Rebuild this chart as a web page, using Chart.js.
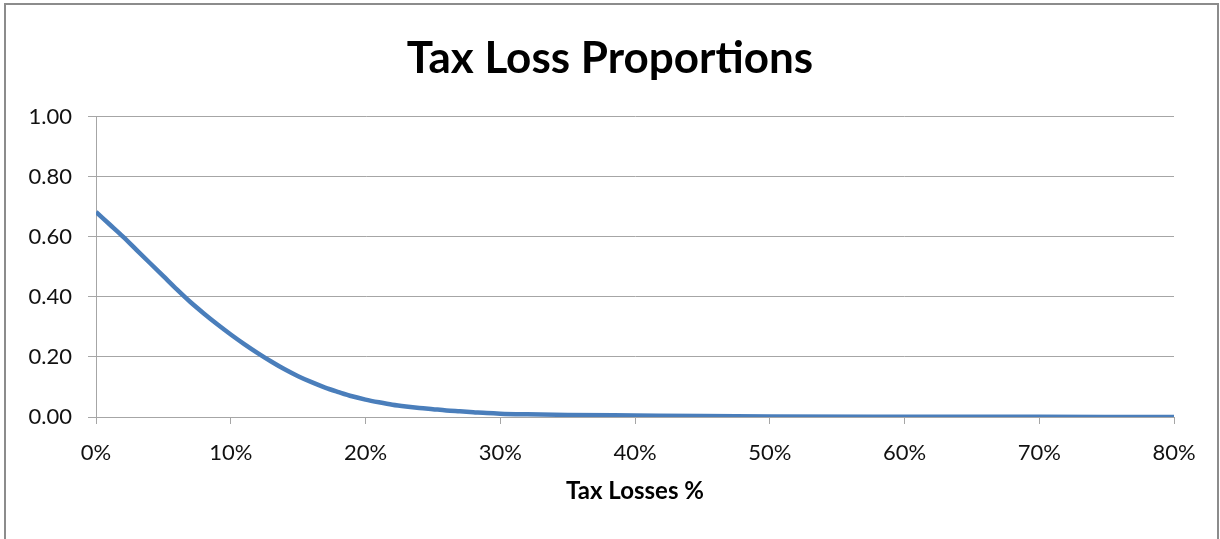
<!DOCTYPE html>
<html>
<head>
<meta charset="utf-8">
<script src="https://cdn.jsdelivr.net/npm/chart.js@4"></script>
<style>
  html, body { margin: 0; padding: 0; background: #fff; }
  canvas { display: block; }
</style>
</head>
<body>
<canvas id="c" width="1220" height="539"></canvas>
<script>
// Tax losses (% of base) and the proportion of cases at that loss level
const taxLossPct = [0, 1, 2, 3, 4, 5, 6, 7, 8, 9, 10, 11, 12, 13, 14, 15, 16, 17, 18, 19, 20,
  21, 22, 23, 24, 25, 26, 27, 28, 29, 30, 32, 35, 40, 45, 50, 60, 70, 80];
const proportion = [0.683, 0.642, 0.601, 0.557, 0.513, 0.469, 0.425, 0.383, 0.345, 0.309, 0.275,
  0.243, 0.213, 0.185, 0.159, 0.136, 0.116, 0.098, 0.083, 0.069, 0.058,
  0.049, 0.041, 0.035, 0.030, 0.026, 0.022, 0.019, 0.016, 0.013, 0.011, 0.009, 0.007,
  0.005, 0.003, 0.002, 0.001, 0.0005, 0.0003];
const xTicks = [0, 10, 20, 30, 40, 50, 60, 70, 80];
const yTicks = [0, 0.2, 0.4, 0.6, 0.8, 1.0];

const FONT = 'Lato, "Open Sans", "Liberation Sans", sans-serif';
const GRID = '#a6a6a6';

// Outer frame around the whole chart
const framePlugin = {
  id: 'frame',
  afterDraw(chart) {
    const ctx = chart.ctx;
    ctx.save();
    ctx.strokeStyle = '#8c8c8c';
    ctx.lineWidth = 2;
    ctx.strokeRect(5, 4, 1213, 560);
    ctx.restore();
  }
};

new Chart(document.getElementById('c'), {
  type: 'line',
  data: {
    datasets: [{
      data: taxLossPct.map((x, i) => ({ x, y: proportion[i] })),
      borderColor: '#4a7ebb',
      borderWidth: 4.5,
      pointRadius: 0,
      cubicInterpolationMode: 'monotone',
      fill: false
    }]
  },
  options: {
    responsive: false,
    animation: false,
    layout: { padding: 0 },
    plugins: {
      legend: { display: false },
      tooltip: { enabled: false },
      title: {
        display: true,
        text: 'Tax Loss Proportions',
        color: '#000',
        font: { family: FONT, size: 44, weight: 'bold' },
        padding: { top: 32, bottom: 32 }
      }
    },
    scales: {
      x: {
        type: 'linear',
        min: 0,
        max: 80,
        afterBuildTicks(s) { s.ticks = xTicks.map(v => ({ value: v })); },
        afterFit(s) { s.height = 122; },
        ticks: {
          color: '#111',
          font: { family: FONT, size: 22 },
          padding: 16,
          callback: v => v + '%'
        },
        grid: { drawOnChartArea: false, drawTicks: true, tickLength: 7, color: GRID },
        border: { color: GRID },
        title: {
          display: true,
          text: 'Tax Losses %',
          color: '#000',
          font: { family: FONT, size: 24, weight: 'bold' },
          padding: { top: 0, bottom: 33 }
        }
      },
      y: {
        min: 0,
        max: 1,
        afterBuildTicks(s) { s.ticks = yTicks.map(v => ({ value: v })); },
        afterFit(s) { s.width = 96; },
        ticks: {
          color: '#111',
          font: { family: FONT, size: 22 },
          padding: 16,
          callback: v => v.toFixed(2)
        },
        grid: { color: GRID, tickLength: 8 },
        border: { color: GRID }
      },
      // empty right-hand gutter so the plot ends short of the frame
      gutter: {
        type: 'linear',
        position: 'right',
        afterFit(s) { s.width = 46; },
        ticks: { display: false },
        grid: { display: false },
        border: { display: false }
      }
    }
  },
  plugins: [framePlugin]
});
</script>
</body>
</html>
